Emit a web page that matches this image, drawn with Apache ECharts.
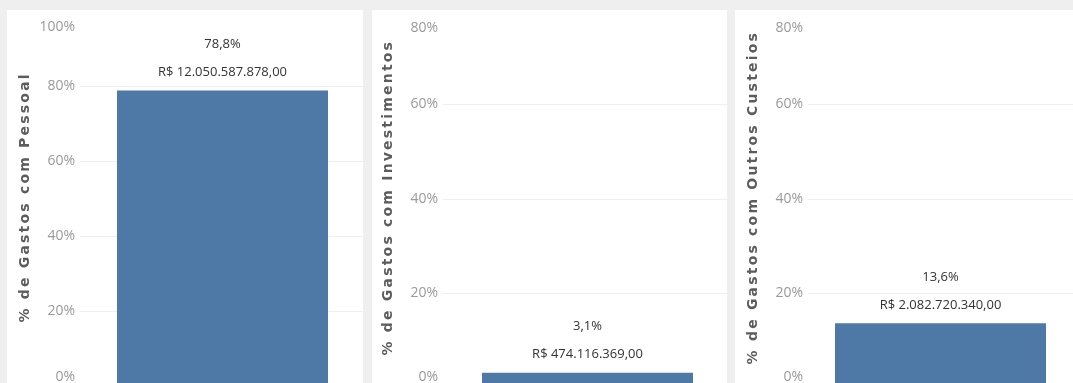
<!DOCTYPE html>
<html lang="pt-BR">
<head>
<meta charset="utf-8">
<title>Distribuição dos gastos</title>
<script src="https://cdn.jsdelivr.net/npm/echarts@6/dist/echarts.min.js"></script>
<style>
  html, body { margin: 0; padding: 0; background: #efefef; overflow: hidden; }
  #chart { width: 1073px; height: 400px; }
</style>
</head>
<body>
<div id="chart"></div>
<script>
// Categorias de gasto, uma por painel
const categorias = ['Pessoal', 'Investimentos', 'Outros Custeios'];
// Percentual de cada categoria sobre o total
const percentuais = [78.8, 3.1, 13.6];
// Valores absolutos em reais
const valores = [12050587878.00, 474116369.00, 2082720340.00];
// Títulos dos eixos verticais
const titulos = [
  '% de Gastos com Pessoal',
  '% de Gastos com Investimentos',
  '% de Gastos com Outros Custeios'
];
// Máximo de cada eixo e passo dos rótulos
const maximos = [100, 80, 80];
const passo = 20;

// Títulos dos eixos desenhados com espaçamento entre letras:
// cada caractere é posicionado a partir da largura medida no canvas.
const ESPACO_LETRAS = 2.2;
const titulosEspacados = new Set(titulos);
const fillTextOriginal = CanvasRenderingContext2D.prototype.fillText;
CanvasRenderingContext2D.prototype.fillText = function (t, x, y, w) {
  if (!titulosEspacados.has(t)) {
    return w === undefined ? fillTextOriginal.call(this, t, x, y) : fillTextOriginal.call(this, t, x, y, w);
  }
  const chars = Array.from(t);
  const larguras = chars.map(c => this.measureText(c).width);
  const total = larguras.reduce((a, b) => a + b, 0) + ESPACO_LETRAS * (chars.length - 1);
  const alinhamento = this.textAlign;
  let inicio = x;
  if (alinhamento === 'center') inicio = x - total / 2;
  else if (alinhamento === 'right' || alinhamento === 'end') inicio = x - total;
  this.textAlign = 'left';
  let cx = inicio;
  chars.forEach((c, k) => {
    fillTextOriginal.call(this, c, cx, y);
    cx += larguras[k] + ESPACO_LETRAS;
  });
  this.textAlign = alinhamento;
};

function formatarReais(v) {
  const partes = v.toFixed(2).split('.');
  const inteiro = partes[0].replace(/\B(?=(\d{3})+(?!\d))/g, '.');
  return 'R$ ' + inteiro + ',' + partes[1];
}
function formatarPct(p) {
  return p.toFixed(1).replace('.', ',') + '%';
}

// Layout dos painéis (fundo branco) e das áreas de plotagem
const paineis = [
  { x: 7, y: 10, w: 356, h: 390 },
  { x: 372, y: 10, w: 355, h: 390 },
  { x: 735, y: 10, w: 345, h: 390 }
];
const grades = [
  { left: 80, top: 11, width: 285, height: 375 },
  { left: 443, top: 10, width: 289, height: 377.5 },
  { left: 808, top: 10, width: 288, height: 377.5 }
];
// Deslocamento vertical dos rótulos extremos (mantidos dentro do painel)
const paddingTopo = [32, 36, 36];
const paddingBase = [18, 21, 21];
// Distância entre rótulo de valor e topo da barra
const distanciaRotulo = [4, 5, 4];

const chart = echarts.init(document.getElementById('chart'), null, { renderer: 'canvas' });

const graficos = [];
paineis.forEach(p => {
  graficos.push({
    type: 'rect', z: -10, silent: true,
    shape: { x: p.x, y: p.y, width: p.w, height: p.h },
    style: { fill: '#ffffff' }
  });
});
// Faixas cinzentas entre os painéis, por cima das linhas de grade
[[0, 0, 1073, 10], [0, 0, 7, 400], [363, 0, 9, 400], [727, 0, 8, 400]].forEach(r => {
  graficos.push({
    type: 'rect', z: 50, silent: true,
    shape: { x: r[0], y: r[1], width: r[2], height: r[3] },
    style: { fill: '#efefef' }
  });
});

const option = {
  backgroundColor: '#efefef',
  animation: false,
  graphic: graficos,
  grid: grades.map(g => Object.assign({ containLabel: false }, g)),
  xAxis: categorias.map((c, i) => ({
    type: 'category',
    gridIndex: i,
    data: [c],
    show: false
  })),
  yAxis: categorias.map((c, i) => ({
    type: 'value',
    gridIndex: i,
    min: 0,
    max: maximos[i],
    interval: passo,
    name: titulos[i],
    nameLocation: 'middle',
    nameRotate: 90,
    nameGap: 48,
    nameTextStyle: {
      fontFamily: 'DejaVu Sans',
      fontSize: 14,
      fontWeight: 'bold',
      color: '#5c5c5c'
    },
    axisLine: { show: false },
    axisTick: { show: false },
    splitLine: { show: true, showMaxLine: false, lineStyle: { color: '#efefef', width: 1 } },
    axisLabel: {
      margin: 5,
      fontFamily: 'Open Sans',
      fontSize: 14,
      color: '#9a9a9a',
      formatter: function (v) {
        if (v === maximos[i]) return '{topo|' + v + '%}';
        if (v === 0) return '{base|' + v + '%}';
        return v + '%';
      },
      rich: {
        topo: { fontFamily: 'Open Sans', fontSize: 14, color: '#9a9a9a', padding: [paddingTopo[i], 0, 0, 0] },
        base: { fontFamily: 'Open Sans', fontSize: 14, color: '#9a9a9a', padding: [0, 0, paddingBase[i], 0] }
      }
    }
  })),
  series: categorias.map((c, i) => ({
    type: 'bar',
    xAxisIndex: i,
    yAxisIndex: i,
    data: [percentuais[i]],
    barWidth: 211,
    itemStyle: { color: '#4e78a6' },
    label: {
      show: true,
      position: 'top',
      distance: distanciaRotulo[i],
      fontFamily: 'Open Sans',
      fontSize: 13,
      lineHeight: 28,
      color: '#333333',
      formatter: function () {
        return formatarPct(percentuais[i]) + '\n' + formatarReais(valores[i]);
      }
    }
  }))
};

chart.setOption(option);
</script>
</body>
</html>
